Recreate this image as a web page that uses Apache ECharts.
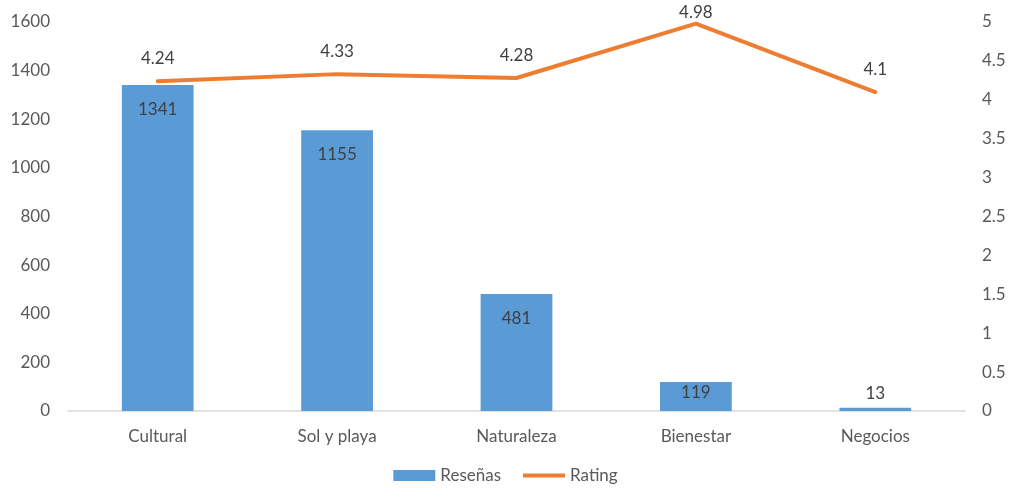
<!DOCTYPE html>
<html>
<head>
<meta charset="utf-8">
<script src="https://cdn.jsdelivr.net/npm/echarts@6/dist/echarts.min.js"></script>
<style>
  html, body { margin: 0; padding: 0; background: #fff; }
  #chart { width: 1011px; height: 489px; }
</style>
</head>
<body>
<div id="chart"></div>
<script>
// Tourism segments: number of reviews (bars, left axis) and average rating (line, right axis)
const categories = ['Cultural', 'Sol y playa', 'Naturaleza', 'Bienestar', 'Negocios'];
const resenas = [1341, 1155, 481, 119, 13];
const rating = [4.24, 4.33, 4.28, 4.98, 4.1];

const FONT = 'Lato, "Open Sans", sans-serif';
const TEXT = '#595959';
const FS = 17;

const chart = echarts.init(document.getElementById('chart'), null, { renderer: 'canvas' });

// Bar labels sit inside the top of the bar; short bars squeeze the label up,
// and the very shortest ones carry it above the bar
const barData = resenas.map(v => {
  if (v < 60) return { value: v, label: { position: 'top', distance: 6 } };
  if (v < 200) return { value: v, label: { distance: 2 } };
  return v;
});

// Ratings close to the top of the axis get their label pulled closer to the line
const lineData = rating.map(v => v > 4.8
  ? { value: v, label: { distance: 2 } }
  : v);

chart.setOption({
  animation: false,
  textStyle: { fontFamily: FONT },
  grid: { left: 68, right: 46, top: 22, bottom: 78 },
  legend: {
    top: 462,
    left: 'center',
    itemGap: 22,
    itemWidth: 42,
    itemHeight: 11,
    textStyle: { color: TEXT, fontSize: FS, fontFamily: FONT },
    data: [
      { name: 'Reseñas', icon: 'rect' },
      { name: 'Rating', icon: 'path://M0,3.5 L42,3.5 L42,7.5 L0,7.5 Z' }
    ]
  },
  xAxis: {
    type: 'category',
    data: categories,
    axisLine: { lineStyle: { color: '#D9D9D9', width: 1.5 } },
    axisTick: { show: false },
    axisLabel: { color: TEXT, fontSize: FS, margin: 17, fontFamily: FONT }
  },
  yAxis: [
    {
      type: 'value',
      min: 0, max: 1600, interval: 200,
      splitLine: { show: false },
      axisLine: { show: false },
      axisTick: { show: false },
      axisLabel: { color: TEXT, fontSize: FS, margin: 18, fontFamily: FONT, formatter: v => String(v) }
    },
    {
      type: 'value',
      min: 0, max: 5, interval: 0.5,
      position: 'right',
      splitLine: { show: false },
      axisLine: { show: false },
      axisTick: { show: false },
      axisLabel: { color: TEXT, fontSize: FS, margin: 17, fontFamily: FONT, formatter: v => String(v) }
    }
  ],
  series: [
    {
      name: 'Reseñas',
      type: 'bar',
      yAxisIndex: 0,
      barWidth: '40%',
      data: barData,
      itemStyle: { color: '#5B9BD5' },
      label: {
        show: true,
        position: 'insideTop',
        distance: 16,
        color: '#404040',
        fontSize: FS,
        fontFamily: FONT
      }
    },
    {
      name: 'Rating',
      type: 'line',
      yAxisIndex: 1,
      data: lineData,
      symbol: 'circle',
      symbolSize: 1,
      showSymbol: true,
      lineStyle: { color: '#ED7D31', width: 4, cap: 'round', join: 'round' },
      itemStyle: { color: '#ED7D31' },
      label: {
        show: true,
        position: 'top',
        distance: 14,
        color: '#404040',
        fontSize: FS,
        fontFamily: FONT
      },
      z: 3
    }
  ]
});
</script>
</body>
</html>
